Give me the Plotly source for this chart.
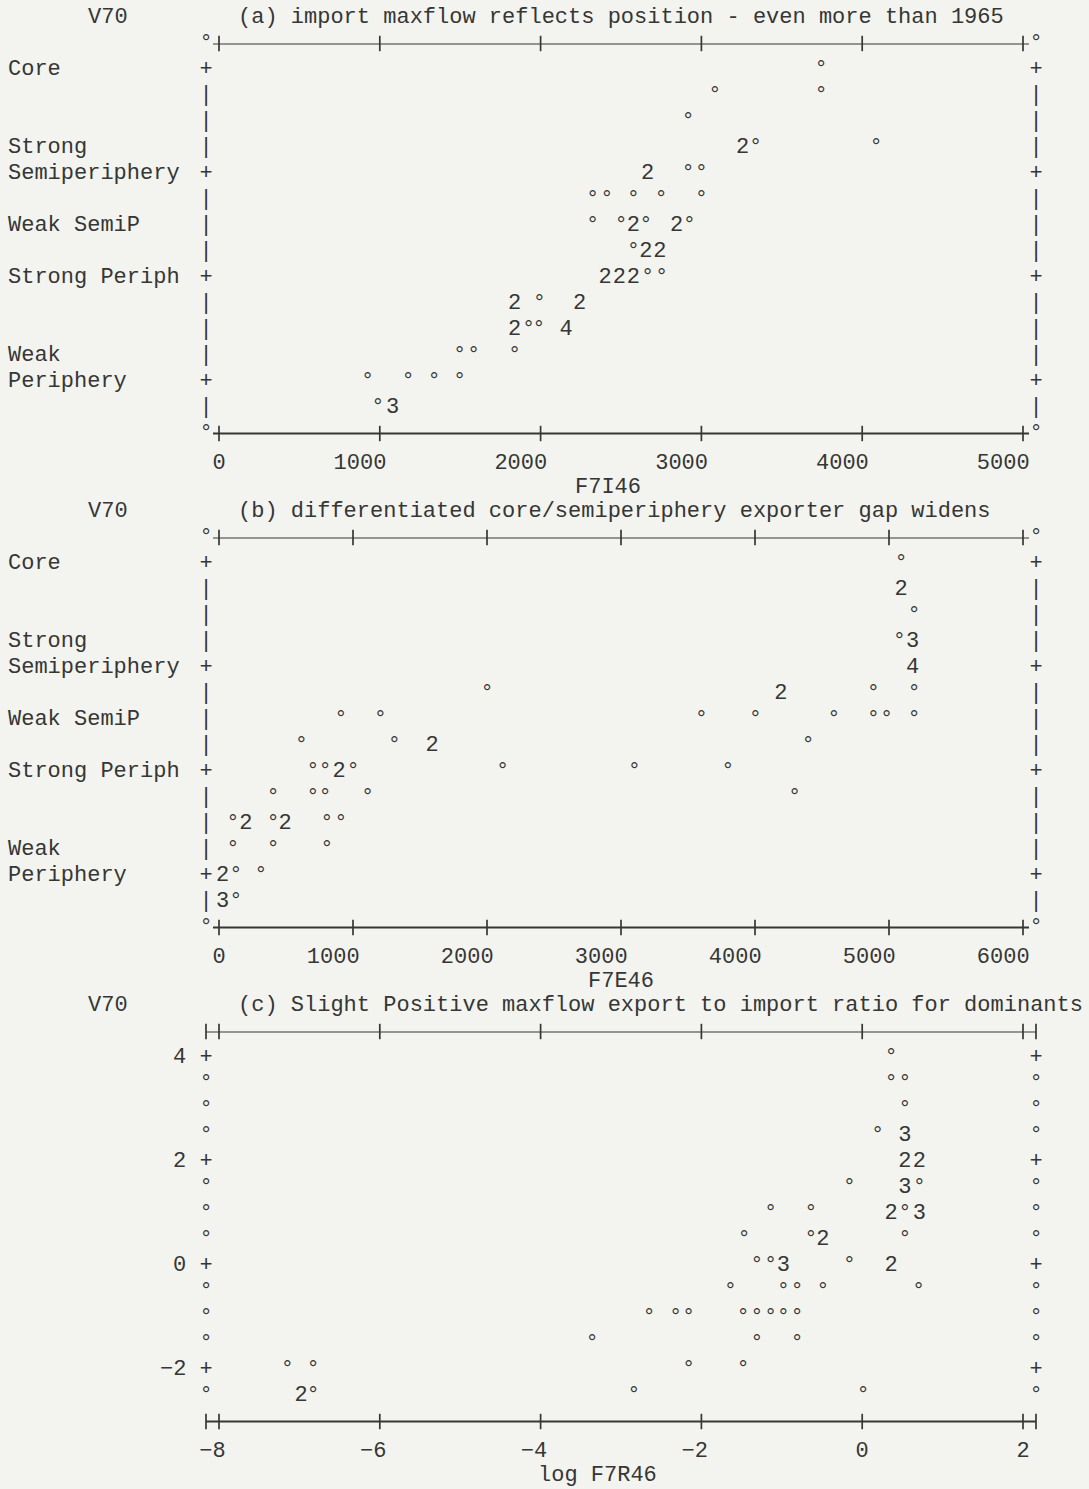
import plotly.graph_objects as go

W, H = 1089, 1489
FONT = "Liberation Mono"
FS = 22
INK = "#363636"
BG = "#f3f4ef"

# ---------------- data (x value, V70 row value, number of cases in cell) ----------------
# panel (a): F7I46 vs V70
a_x = [3744, 3084, 3744, 2918, 3256, 3337, 4086, 2665, 2918, 3000,
       2324, 2412, 2577, 2749, 3000,
       2324, 2500, 2577, 2654, 2846, 2925,
       2577, 2654, 2742,
       2401, 2489, 2577, 2665, 2753,
       1839, 1993, 2242,
       1839, 1925, 1989, 2159,
       1497, 1583, 1839,
       924, 1176, 1337, 1497,
       988, 1080]
a_y = [4.0, 3.75, 3.75, 3.5, 3.25, 3.25, 3.25, 3.0, 3.0, 3.0,
       2.75, 2.75, 2.75, 2.75, 2.75,
       2.5, 2.5, 2.5, 2.5, 2.5, 2.5,
       2.25, 2.25, 2.25,
       2.0, 2.0, 2.0, 2.0, 2.0,
       1.75, 1.75, 1.75,
       1.5, 1.5, 1.5, 1.5,
       1.25, 1.25, 1.25,
       1.0, 1.0, 1.0, 1.0,
       0.75, 0.75]
a_n = [1, 1, 1, 1, 2, 1, 1, 2, 1, 1,
       1, 1, 1, 1, 1,
       1, 1, 2, 1, 2, 1,
       1, 2, 2,
       2, 2, 2, 1, 1,
       2, 1, 2,
       2, 1, 1, 4,
       1, 1, 1,
       1, 1, 1, 1,
       1, 3]

# panel (b): F7E46 vs V70
b_x = [5091, 5091, 5187, 5078, 5177, 5177,
       2000, 4193, 4883, 5187,
       910, 1205, 3599, 4003, 4589, 4883, 4982, 5187,
       615, 1308, 1590, 4396,
       701, 792, 896, 1000, 2117, 3099, 3798,
       403, 701, 792, 1109, 4296,
       104, 200, 403, 494, 805, 909,
       104, 403, 805,
       26, 125, 312,
       26, 125]
b_y = [4.0, 3.75, 3.5, 3.25, 3.25, 3.0,
       2.75, 2.75, 2.75, 2.75,
       2.5, 2.5, 2.5, 2.5, 2.5, 2.5, 2.5, 2.5,
       2.25, 2.25, 2.25, 2.25,
       2.0, 2.0, 2.0, 2.0, 2.0, 2.0, 2.0,
       1.75, 1.75, 1.75, 1.75, 1.75,
       1.5, 1.5, 1.5, 1.5, 1.5, 1.5,
       1.25, 1.25, 1.25,
       1.0, 1.0, 1.0,
       0.75, 0.75]
b_n = [1, 2, 1, 1, 3, 4,
       1, 2, 1, 1,
       1, 1, 1, 1, 1, 1, 1, 1,
       1, 1, 2, 1,
       1, 1, 2, 1, 1, 1, 1,
       1, 1, 1, 1, 1,
       1, 2, 1, 2, 1, 1,
       1, 1, 1,
       2, 1, 1,
       3, 1]

# panel (c): log F7R46 vs V70
c_x = [0.36,
       0.36, 0.53,
       0.53,
       0.19, 0.53,
       0.53, 0.71,
       -0.16, 0.53, 0.71,
       -1.14, -0.64, 0.36, 0.53, 0.71,
       -1.47, -0.64, -0.49, 0.53,
       -1.31, -1.14, -0.98, -0.16, 0.36,
       -1.64, -0.98, -0.81, -0.49, 0.70,
       -2.65, -2.32, -2.16, -1.48, -1.31, -1.14, -0.98, -0.81,
       -3.36, -1.31, -0.81,
       -7.15, -6.83, -2.16, -1.48,
       -6.98, -6.83, -2.84, 0.01]
c_y = [4.0,
       3.5, 3.5,
       3.0,
       2.5, 2.5,
       2.0, 2.0,
       1.5, 1.5, 1.5,
       1.0, 1.0, 1.0, 1.0, 1.0,
       0.5, 0.5, 0.5, 0.5,
       0.0, 0.0, 0.0, 0.0, 0.0,
       -0.5, -0.5, -0.5, -0.5, -0.5,
       -1.0, -1.0, -1.0, -1.0, -1.0, -1.0, -1.0, -1.0,
       -1.5, -1.5, -1.5,
       -2.0, -2.0, -2.0, -2.0,
       -2.5, -2.5, -2.5, -2.5]
c_n = [1,
       1, 1,
       1,
       1, 3,
       2, 2,
       1, 3, 1,
       1, 1, 2, 1, 3,
       1, 1, 2, 1,
       1, 1, 3, 1, 2,
       1, 1, 1, 1, 1,
       1, 1, 1, 1, 1, 1, 1, 1,
       1, 1, 1,
       1, 1, 1, 1,
       2, 1, 1, 1]

# ticks / labels
a_xticks = [0, 1000, 2000, 3000, 4000, 5000]
b_xticks = [0, 1000, 2000, 3000, 4000, 5000, 6000]
c_xticks = [-8, -6, -4, -2, 0, 2]
c_xticklabels = ["\u22128", "\u22126", "\u22124", "\u22122", "0", "2"]
pos_levels = [4.0, 3.0, 2.5, 2.0, 1.0]
pos_labels = [["Core"], ["Strong", "Semiperiphery"], ["Weak SemiP"],
              ["Strong Periph"], ["Weak", "Periphery"]]
c_yticks = [4, 2, 0, -2]
c_yticklabels = ["4", "2", "0", "\u22122"]

titles = ["(a) import maxflow reflects position - even more than 1965",
          "(b) differentiated core/semiperiphery exporter gap widens",
          "(c) Slight Positive maxflow export to import ratio for dominants"]
xtitles = ["F7I46", "F7E46", "log F7R46"]
ytitle = "V70"

# ---------------- geometry (pixels) ----------------
XL, XR = 206, 1036          # border columns
T0, T1 = 219, 1023          # first / last x tick
ROW = 26
TOP0 = 43.5
PERIOD = 494
NROWS = 15
EXTRA = 1.5                 # rows below the frame kept inside the axis (tick labels)
LABEL_DROP = 1.15           # tick-label row below the frame, in rows
xtitle_px = [608, 621, 597]


def px(x):
    return x / W


def py(y):
    return 1 - y / H


def xrange_for(t0, t1):
    s = (T1 - T0) / (t1 - t0)
    return [t0 - (T0 - XL) / s, t1 + (XR - T1) / s], s


panels = [
    dict(x=a_x, y=a_y, n=a_n, ticks=a_xticks, tlabels=[str(t) for t in a_xticks],
         yr=[0.5, 4.25], step=0.25, kind="pos"),
    dict(x=b_x, y=b_y, n=b_n, ticks=b_xticks, tlabels=[str(t) for t in b_xticks],
         yr=[0.5, 4.25], step=0.25, kind="pos"),
    dict(x=c_x, y=c_y, n=c_n, ticks=c_xticks, tlabels=c_xticklabels,
         yr=[-3.0, 4.5], step=0.5, kind="num"),
]

fig = go.Figure()
annotations = []
layout_axes = {}
tfont = dict(family=FONT, size=FS, color=INK)

for k, p in enumerate(panels):
    sfx = "" if k == 0 else str(k + 1)
    xa, ya = "x" + sfx, "y" + sfx
    top = TOP0 + k * PERIOD
    bot = top + NROWS * ROW
    xr, s = xrange_for(p["ticks"][0], p["ticks"][-1])
    y0, y1 = p["yr"]
    step = p["step"]
    layout_axes["xaxis" + sfx] = dict(domain=[px(XL), px(XR)], range=xr, visible=False,
                                      anchor=ya, fixedrange=True)
    layout_axes["yaxis" + sfx] = dict(domain=[py(bot + EXTRA * ROW), py(top)],
                                      range=[y0 - EXTRA * step, y1],
                                      visible=False, anchor=xa, fixedrange=True)

    # data cells: a small circle for one case, the count otherwise
    fig.add_trace(go.Scatter(
        x=p["x"], y=p["y"], mode="text",
        text=["\u00b0" if n == 1 else str(n) for n in p["n"]],
        textfont=tfont, xaxis=xa, yaxis=ya, cliponaxis=False, hoverinfo="skip"))

    # horizontal borders
    if p["kind"] == "pos":
        hx = [p["ticks"][0] - 6 / s, p["ticks"][-1] + 6 / s]
    else:
        hx = [xr[0] - 6 / s, xr[1] + 6 / s]
    for yb in (y0, y1):
        fig.add_trace(go.Scatter(x=hx, y=[yb, yb], mode="lines",
                                 line=dict(color=INK, width=2),
                                 xaxis=xa, yaxis=ya, cliponaxis=False, hoverinfo="skip"))
    tx = list(p["ticks"])
    if p["kind"] == "num":
        tx = [xr[0]] + tx + [xr[1]]
    fig.add_trace(go.Scatter(x=tx * 2, y=[y0] * len(tx) + [y1] * len(tx), mode="markers",
                             marker=dict(symbol="line-ns", size=11,
                                         line=dict(color=INK, width=1.7)),
                             xaxis=xa, yaxis=ya, cliponaxis=False, hoverinfo="skip"))

    # vertical borders
    nv = int(round((y1 - y0) / step))
    rows = [y0 + i * step for i in range(1, nv)]
    if p["kind"] == "pos":
        tick_rows = [1.0, 2.0, 3.0, 4.0]
        chars = ["+" if r in tick_rows else "|" for r in rows]
    else:
        chars = ["+" if r in c_yticks else "\u00b0" for r in rows]
    for xb in xr:
        fig.add_trace(go.Scatter(x=[xb] * len(rows), y=rows, mode="text", text=chars,
                                 textfont=tfont, xaxis=xa, yaxis=ya,
                                 cliponaxis=False, hoverinfo="skip"))
    if p["kind"] == "pos":
        fig.add_trace(go.Scatter(x=[xr[0], xr[1], xr[0], xr[1]], y=[y0, y0, y1, y1],
                                 mode="text", text=["\u00b0"] * 4, textfont=tfont,
                                 xaxis=xa, yaxis=ya, cliponaxis=False, hoverinfo="skip"))

    # x tick labels: last character under the tick (padded, centred monospace text)
    fig.add_trace(go.Scatter(
        x=p["ticks"], y=[y0 - LABEL_DROP * step] * len(p["ticks"]), mode="text",
        text=[lab + "\u00a0" * (len(lab) - 1) for lab in p["tlabels"]],
        textfont=tfont, xaxis=xa, yaxis=ya, cliponaxis=False, hoverinfo="skip"))

    # x axis title
    annotations.append(dict(x=px(xtitle_px[k]), y=py(bot + 54), xref="paper", yref="paper",
                            text=xtitles[k], showarrow=False, xanchor="center",
                            yanchor="middle", font=tfont))
    # title and V70
    annotations.append(dict(x=px(236), y=py(top - 26), xref="paper", yref="paper",
                            text=titles[k], showarrow=False, xanchor="left",
                            yanchor="middle", font=tfont))
    annotations.append(dict(x=px(108), y=py(top - 26), xref="paper", yref="paper",
                            text=ytitle, showarrow=False, xanchor="center",
                            yanchor="middle", font=tfont))
    # y labels
    if p["kind"] == "pos":
        for lv, lines in zip(pos_levels, pos_labels):
            for j, line in enumerate(reversed(lines)):
                annotations.append(dict(x=px(6), y=lv + j * step, xref="paper", yref=ya,
                                        text=line, showarrow=False, xanchor="left",
                                        yanchor="middle", font=tfont))
    else:
        for t, lab in zip(c_yticks, c_yticklabels):
            annotations.append(dict(x=px(188), y=t, xref="paper", yref=ya,
                                    text=lab, showarrow=False, xanchor="right",
                                    yanchor="middle", font=tfont))

fig.update_layout(width=W, height=H, margin=dict(l=0, r=0, t=0, b=0),
                  paper_bgcolor=BG, plot_bgcolor=BG, showlegend=False,
                  annotations=annotations, hovermode=False, **layout_axes)
fig.write_html("out.html", config={"displayModeBar": False, "staticPlot": True},
               post_script="document.body.style.margin='0px';"
                           "document.body.style.overflow='hidden';"
                           "document.body.style.background='" + BG + "';")
